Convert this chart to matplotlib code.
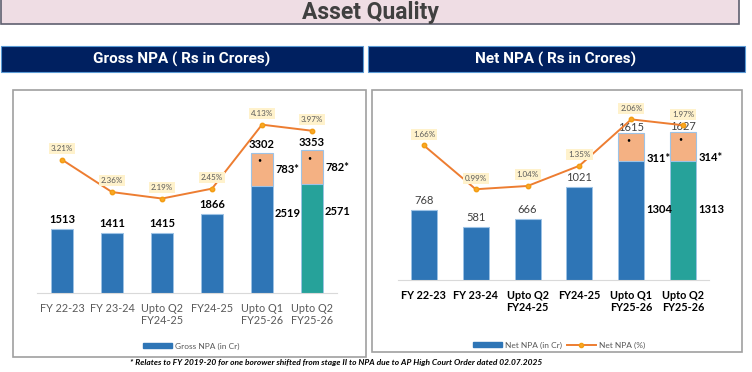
import matplotlib
matplotlib.use("Agg")
import matplotlib.pyplot as plt
from matplotlib.patches import Rectangle
from matplotlib.lines import Line2D
from matplotlib.patches import Patch

# data
cats = ['FY 22-23', 'FY 23-24', 'Upto Q2\nFY24-25', 'FY24-25', 'Upto Q1\nFY25-26', 'Upto Q2\nFY25-26']
gross_base = [1513, 1411, 1415, 1866, 2519, 2571]
gross_extra = [0, 0, 0, 0, 783, 782]
gross_pct = [3.21, 2.36, 2.19, 2.45, 4.13, 3.97]
net_base = [768, 581, 666, 1021, 1304, 1313]
net_extra = [0, 0, 0, 0, 311, 314]
net_pct = [1.66, 0.99, 1.04, 1.35, 2.06, 1.97]

BLUE = '#2E75B6'
TEAL = '#26A29A'
PEACH = '#F4B183'
ORANGE = '#ED7D31'
NAVY = '#002060'
GRAY = '#595959'

plt.rcParams['font.family'] = ['Lato', 'DejaVu Sans']

W, H = 752, 372
fig = plt.figure(figsize=(W / 100, H / 100), dpi=100)


def box(x0, y0, x1, y1):
    return [x0 / W, 1 - y1 / H, (x1 - x0) / W, (y1 - y0) / H]


def rect(x0, y0, x1, y1, **kw):
    fig.patches.append(Rectangle((x0 / W, 1 - y1 / H), (x1 - x0) / W, (y1 - y0) / H,
                                 transform=fig.transFigure, zorder=-1, **kw))


# title banner
rect(0.5, -2, 739, 24, facecolor='#EFDDE4', edgecolor='#5F6070', lw=1.2)
fig.text(370 / W, 1 - 12 / H, 'Asset Quality', ha='center', va='center',
         fontsize=16.5, fontweight='bold', color='#404040', family='Roboto')

# section headers
rect(1, 46, 363, 72, facecolor=NAVY, edgecolor='#5B9BD5', lw=0.8)
rect(368, 46, 745, 72, facecolor=NAVY, edgecolor='#5B9BD5', lw=0.8)
fig.text(182 / W, 1 - 59 / H, 'Gross NPA ( Rs in Crores)', ha='center', va='center',
         fontsize=11, fontweight='bold', color='white', family='Roboto')
fig.text(556 / W, 1 - 59 / H, 'Net NPA ( Rs in Crores)', ha='center', va='center',
         fontsize=11, fontweight='bold', color='white', family='Roboto')

# chart frames
rect(13, 90, 366, 357, facecolor='white', edgecolor='#A0A0A0', lw=1.2)
rect(372, 90, 742, 352, facecolor='white', edgecolor='#A0A0A0', lw=1.2)


def panel(pos, base, extra, pct, ymax, pmin, pmax, width, tick_style, val_style,
          base_off, extra_off, total_off):
    ax = fig.add_axes(box(*pos))
    x = list(range(len(cats)))
    colors = [BLUE] * (len(cats) - 1) + [TEAL]
    ax.bar(x, base, width, color=colors, edgecolor='#9DC3E6', lw=0.6, zorder=2)
    ax.bar(x, extra, width, bottom=base, color=PEACH, edgecolor='#9DC3E6', lw=0.8, zorder=2)
    ax.set_xlim(-0.5, len(cats) - 0.5)
    ax.set_ylim(0, ymax)
    ax.set_yticks([])
    for s in ['left', 'right', 'top']:
        ax.spines[s].set_visible(False)
    ax.spines['bottom'].set_color('#D9D9D9')
    ax.set_xticks(x)
    ax.set_xticklabels(cats, linespacing=1.1, **tick_style)
    ax.tick_params(axis='x', length=0, pad=7.5)
    ax.patch.set_alpha(0)

    for i in x:
        if extra[i] == 0:
            ax.annotate(str(base[i]), (i, base[i]), xytext=(0, 3), textcoords='offset points',
                        ha='center', va='bottom', **val_style)
        else:
            tot = base[i] + extra[i]
            ax.annotate(str(tot), (i, tot), xytext=(0, total_off), textcoords='offset points',
                        ha='center', va='bottom', **val_style)
            ax.annotate(str(extra[i]) + '*', (i + width / 2, base[i] + extra[i] / 2),
                        xytext=(1.5, extra_off), textcoords='offset points',
                        ha='left', va='center', fontsize=8, fontweight='bold', color='black')
            ax.annotate(str(base[i]), (i + width / 2, base[i]),
                        xytext=(1.5, base_off), textcoords='offset points',
                        ha='left', va='center', fontsize=8, fontweight='bold', color='black')
            ax.annotate('•', (i, tot), xytext=(-2, -5), textcoords='offset points',
                        ha='center', va='center', fontsize=5, color='black')

    ax2 = ax.twinx()
    ax2.plot(x, pct, color=ORANGE, lw=1.4, marker='o', ms=3.2,
             markerfacecolor='#F9A825', markeredgecolor='#F39C12', zorder=3)
    ax2.set_ylim(pmin, pmax)
    ax2.set_yticks([])
    for s in ax2.spines.values():
        s.set_visible(False)
    for i in x:
        ax2.annotate('%.2f%%' % pct[i], (i, pct[i]), xytext=(0, 8), textcoords='offset points',
                     ha='center', va='center', fontsize=5.8, color=GRAY,
                     bbox=dict(boxstyle='square,pad=0.25', fc='#FFF2CC', ec='none'))
    return ax, ax2


ax_l, ax_l2 = panel((37, 106, 337, 293), gross_base, gross_extra, gross_pct, 4400, -0.29, 4.62, 0.44,
                    dict(fontsize=7.8, color=GRAY),
                    dict(fontsize=8, fontweight='bold', color='black'),
                    -20, 0, 2)
ax_r, ax_r2 = panel((398, 105, 709, 280), net_base, net_extra, net_pct, 1923, -0.40, 2.28, 0.5,
                    dict(fontsize=7.8, fontweight='bold', color='black'),
                    dict(fontsize=8, color='#404040'),
                    -35, -8, 0)

# legends
fig.legend(handles=[Patch(color=BLUE, label='Gross NPA (in Cr)')],
           loc='center', bbox_to_anchor=(191 / W, 1 - 346 / H), frameon=False,
           fontsize=6, labelcolor=GRAY, handlelength=3.5, handleheight=0.6, handletextpad=0.3)
fig.legend(handles=[Patch(color=BLUE, label='Net NPA (in Cr)'),
                    Line2D([], [], color=ORANGE, lw=1.4, marker='o', ms=3,
                           markerfacecolor='#F9A825', markeredgecolor='#F39C12', label='Net NPA (%)')],
           loc='center', bbox_to_anchor=(559 / W, 1 - 345 / H), frameon=False, ncol=2,
           fontsize=6, labelcolor=GRAY, handlelength=3.5, handleheight=0.6, handletextpad=0.3,
           columnspacing=0.6)

# footnote
fig.text(336 / W, 1 - 363 / H,
         '* Relates to FY 2019-20 for one borower shifted from stage II to NPA due to AP High Court Order dated 02.07.2025',
         ha='center', va='center', fontsize=6, fontweight='bold', style='italic', color='black')

fig.savefig('out.png', dpi=100)
